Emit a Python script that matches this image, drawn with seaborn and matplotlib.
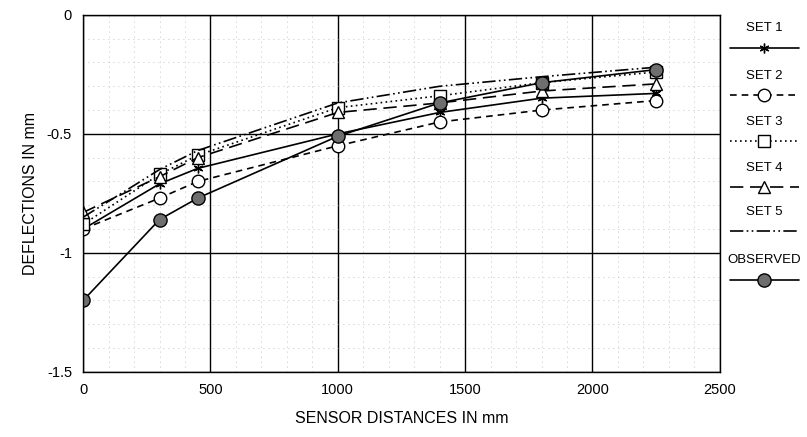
import numpy as np
import pandas as pd
import matplotlib
matplotlib.use("Agg")
import matplotlib.pyplot as plt
from matplotlib.lines import Line2D
from matplotlib.ticker import MultipleLocator
import seaborn as sns

# sensor distances (mm) and deflections (mm)
distances = [0, 300, 450, 1000, 1400, 1800, 2250]
set1 = [-0.90, -0.71, -0.645, -0.50, -0.41, -0.35, -0.33]
set2 = [-0.90, -0.77, -0.70, -0.55, -0.45, -0.40, -0.36]
set3 = [-0.88, -0.67, -0.59, -0.39, -0.34, -0.285, -0.24]
set4 = [-0.83, -0.68, -0.60, -0.41, -0.37, -0.32, -0.29]
set5 = [-0.85, -0.65, -0.57, -0.37, -0.30, -0.26, -0.22]
observed = [-1.20, -0.86, -0.77, -0.51, -0.37, -0.285, -0.23]

labels = ["SET 1", "SET 2", "SET 3", "SET 4", "SET 5", "OBSERVED"]
series = [set1, set2, set3, set4, set5, observed]

sns.set_style("white")
plt.rcParams["font.family"] = ["Liberation Sans", "DejaVu Sans"]
plt.rcParams["text.color"] = "black"
plt.rcParams["axes.labelcolor"] = "black"
plt.rcParams["xtick.color"] = "black"
plt.rcParams["ytick.color"] = "black"

# line style per series: (dashes, marker, markersize, facecolor)
styles = {
    "SET 1": (None, (6, 2, 0), 7, "black"),
    "SET 2": ((4, 3), "o", 9, "white"),
    "SET 3": ((1, 2), "s", 9, "white"),
    "SET 4": ((8, 4), "^", 9, "white"),
    "SET 5": ((8, 2, 1, 2, 1, 2), None, 0, "black"),
    "OBSERVED": (None, "o", 9.5, "#6e6e6e"),
}

fig, ax = plt.subplots(figsize=(8.07, 4.37), dpi=100)
fig.subplots_adjust(left=0.103, right=0.892, top=0.966, bottom=0.149)

handles = []
for lab, vals in zip(labels, series):
    dashes, marker, ms, fc = styles[lab]
    kw = dict(color="black", linewidth=1.2, marker=marker, markersize=ms,
              markerfacecolor=fc, markeredgecolor="black", markeredgewidth=1.0)
    if dashes is not None:
        kw["dashes"] = dashes
    df = pd.DataFrame({"dist": distances, "defl": vals})
    sns.lineplot(data=df, x="dist", y="defl", ax=ax, legend=False, **kw)
    handles.append(Line2D([], [], **kw))

ax.set_xlim(0, 2500)
ax.set_ylim(-1.5, 0)
ax.xaxis.set_major_locator(MultipleLocator(500))
ax.xaxis.set_minor_locator(MultipleLocator(100))
ax.yaxis.set_minor_locator(MultipleLocator(0.1))
ax.set_yticks([0, -0.5, -1, -1.5])
ax.set_yticklabels(["0", "-0.5", "-1", "-1.5"])
ax.grid(which="major", color="black", linewidth=1.0, linestyle="-")
ax.grid(which="minor", color="#b0b0b0", linewidth=0.6, linestyle=(0, (1, 5)))
ax.set_axisbelow(True)
for sp in ax.spines.values():
    sp.set_color("black")
    sp.set_linewidth(1.0)
ax.tick_params(which="both", length=0, labelsize=10.5, pad=8)

ax.set_xlabel("SENSOR DISTANCES IN mm", fontsize=11.5, labelpad=10)
ax.set_ylabel("DEFLECTIONS IN mm", fontsize=11.5, labelpad=6)

# legend: label above each line sample, outside on the right
leg_y = [0.911, 0.803, 0.696, 0.591, 0.490, 0.380]
for h, lab, y in zip(handles, labels, leg_y):
    fig.legend(handles=[h], labels=[""], title=lab, loc="center",
               bbox_to_anchor=(0.947, y), frameon=False, handlelength=5.0,
               handletextpad=0, borderpad=0, borderaxespad=0,
               title_fontsize=9.5)

fig.savefig("out.png", dpi=100, facecolor="white")
